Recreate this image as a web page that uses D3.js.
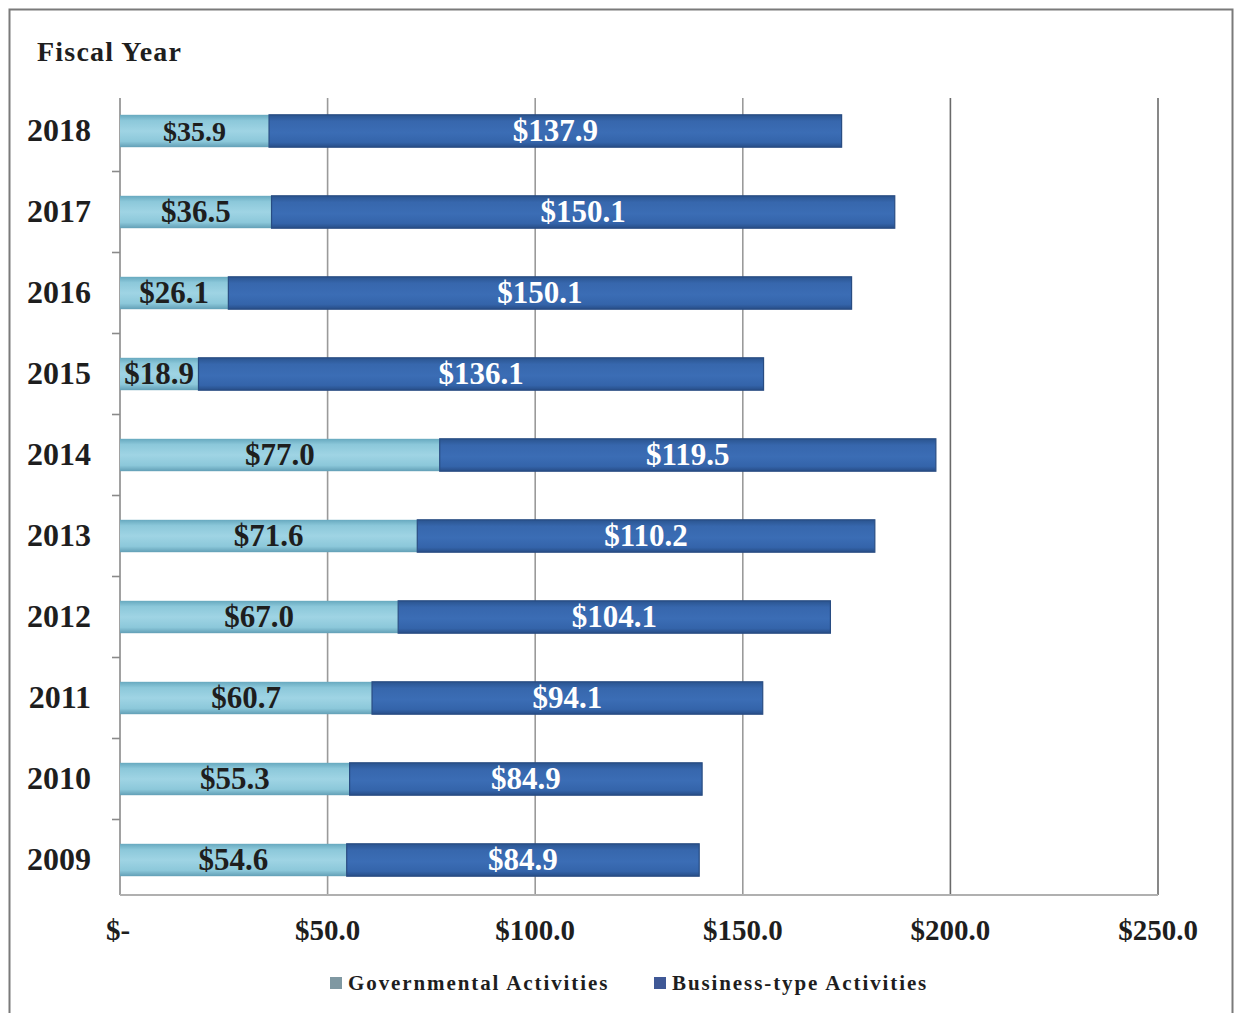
<!DOCTYPE html>
<html>
<head>
<meta charset="utf-8">
<script src="https://cdn.jsdelivr.net/npm/d3@7"></script>
<style>
  html, body { margin: 0; padding: 0; background: #fff; }
  svg { display: block; font-family: "Liberation Serif", "Times New Roman", serif; }
</style>
</head>
<body>
<svg id="chart" width="1235" height="1013"></svg>
<script>
// Net position by fiscal year, in millions of dollars
const years = ["2018", "2017", "2016", "2015", "2014", "2013", "2012", "2011", "2010", "2009"];
const governmental = [35.9, 36.5, 26.1, 18.9, 77.0, 71.6, 67.0, 60.7, 55.3, 54.6];
const businessType = [137.9, 150.1, 150.1, 136.1, 119.5, 110.2, 104.1, 94.1, 84.9, 84.9];
const seriesNames = ["Governmental Activities", "Business-type Activities"];
const xTicks = [0, 50, 100, 150, 200, 250];
const xTickLabels = ["$-", "$50.0", "$100.0", "$150.0", "$200.0", "$250.0"];

const svg = d3.select("#chart");

// Frame
svg.append("rect")
  .attr("x", 9.5).attr("y", 9.5).attr("width", 1223).attr("height", 1015)
  .attr("fill", "#fff").attr("stroke", "#7a7a7a").attr("stroke-width", 2);

// Gradients for the two series
const defs = svg.append("defs");
const gGov = defs.append("linearGradient").attr("id", "govGrad")
  .attr("x1", 0).attr("y1", 0).attr("x2", 0).attr("y2", 1);
[["0%", "#67a9bf"], ["18%", "#8cc8da"], ["50%", "#9fd4e4"], ["82%", "#8cc8da"], ["100%", "#629fb6"]]
  .forEach(([o, c]) => gGov.append("stop").attr("offset", o).attr("stop-color", c));
const gBus = defs.append("linearGradient").attr("id", "busGrad")
  .attr("x1", 0).attr("y1", 0).attr("x2", 0).attr("y2", 1);
[["0%", "#2a548f"], ["20%", "#3767ad"], ["55%", "#3b6db5"], ["85%", "#3464aa"], ["100%", "#274d87"]]
  .forEach(([o, c]) => gBus.append("stop").attr("offset", o).attr("stop-color", c));

// Scales
const x = d3.scaleLinear().domain([0, 250]).range([120, 1158]);
const y = d3.scaleBand().domain(years).range([90.5, 900.5])
  .paddingInner(0.6).paddingOuter(0.3);

const plotTop = 98, plotBottom = 895;

// Vertical gridlines
svg.append("g").selectAll("line")
  .data(xTicks.slice(1))
  .join("line")
  .attr("x1", d => x(d)).attr("x2", d => x(d))
  .attr("y1", plotTop).attr("y2", plotBottom)
  .attr("stroke", d => d >= 200 ? "#6a6a6a" : "#9a9a9a")
  .attr("stroke-width", 1.6);

// Left axis line with ticks between categories
svg.append("line")
  .attr("x1", x(0)).attr("x2", x(0)).attr("y1", plotTop).attr("y2", plotBottom)
  .attr("stroke", "#8a8a8a").attr("stroke-width", 1.6);
const step = y.step();
svg.append("g").selectAll("line")
  .data(years.slice(1))
  .join("line")
  .attr("x1", x(0) - 8).attr("x2", x(0))
  .attr("y1", d => y(d) + y.bandwidth() / 2 - step / 2)
  .attr("y2", d => y(d) + y.bandwidth() / 2 - step / 2)
  .attr("stroke", "#8a8a8a").attr("stroke-width", 1.6);

// Bottom axis line
svg.append("line")
  .attr("x1", x(0)).attr("x2", x(250)).attr("y1", plotBottom).attr("y2", plotBottom)
  .attr("stroke", "#b0b0b0").attr("stroke-width", 2);

// Stacked bars
const rows = years.map((yr, i) => ({ year: yr, gov: governmental[i], bus: businessType[i] }));

const barG = svg.append("g");
barG.selectAll("rect.gov")
  .data(rows).join("rect").attr("class", "gov")
  .attr("x", x(0)).attr("y", d => y(d.year))
  .attr("width", d => x(d.gov) - x(0)).attr("height", y.bandwidth())
  .attr("fill", "url(#govGrad)");
barG.selectAll("rect.bus")
  .data(rows).join("rect").attr("class", "bus")
  .attr("x", d => x(d.gov)).attr("y", d => y(d.year))
  .attr("width", d => x(d.gov + d.bus) - x(d.gov)).attr("height", y.bandwidth())
  .attr("fill", "url(#busGrad)")
  .attr("stroke", "#284c82").attr("stroke-width", 1.2);

// Value labels
const fmt = v => "$" + v.toFixed(1);
barG.selectAll("text.govLbl")
  .data(rows).join("text").attr("class", "govLbl")
  .attr("x", d => (x(0) + x(d.gov)) / 2)
  .attr("y", d => y(d.year) + y.bandwidth() / 2 + 10)
  .attr("text-anchor", "middle")
  .attr("font-weight", "bold").attr("font-size", d => d.year === "2018" ? 28 : 31)
  .attr("fill", "#1e1e1e")
  .text(d => fmt(d.gov));
barG.selectAll("text.busLbl")
  .data(rows).join("text").attr("class", "busLbl")
  .attr("x", d => (x(d.gov) + x(d.gov + d.bus)) / 2)
  .attr("y", d => y(d.year) + y.bandwidth() / 2 + 10)
  .attr("text-anchor", "middle")
  .attr("font-weight", "bold").attr("font-size", 31)
  .attr("fill", "#ffffff")
  .text(d => fmt(d.bus));

// Category labels
svg.append("g").selectAll("text")
  .data(years).join("text")
  .attr("x", 91).attr("y", d => y(d) + y.bandwidth() / 2 + 10)
  .attr("text-anchor", "end")
  .attr("font-weight", "bold").attr("font-size", 32)
  .attr("fill", "#1e1e1e")
  .text(d => d);

// Axis title
svg.append("text")
  .attr("x", 37).attr("y", 61)
  .attr("font-weight", "bold").attr("font-size", 28)
  .attr("letter-spacing", 1.2)
  .attr("fill", "#1e1e1e")
  .text("Fiscal Year");

// X tick labels
svg.append("g").selectAll("text")
  .data(xTicks).join("text")
  .attr("x", (d, i) => x(d) + (i === 0 ? -2 : 0)).attr("y", 940)
  .attr("text-anchor", "middle")
  .attr("font-weight", "bold").attr("font-size", 29)
  .attr("fill", "#1e1e1e")
  .text((d, i) => xTickLabels[i]);

// Legend
const legend = [
  { name: seriesNames[0], color: "#7f98a2", x: 330 },
  { name: seriesNames[1], color: "#3f5896", x: 654 }
];
const lg = svg.append("g").selectAll("g").data(legend).join("g");
lg.append("rect")
  .attr("x", d => d.x).attr("y", 977).attr("width", 12).attr("height", 12)
  .attr("fill", d => d.color);
lg.append("text")
  .attr("x", d => d.x + 18).attr("y", 990)
  .attr("font-weight", "bold").attr("font-size", 21)
  .attr("letter-spacing", 1.9)
  .attr("fill", "#1e1e1e")
  .text(d => d.name);
</script>
</body>
</html>
